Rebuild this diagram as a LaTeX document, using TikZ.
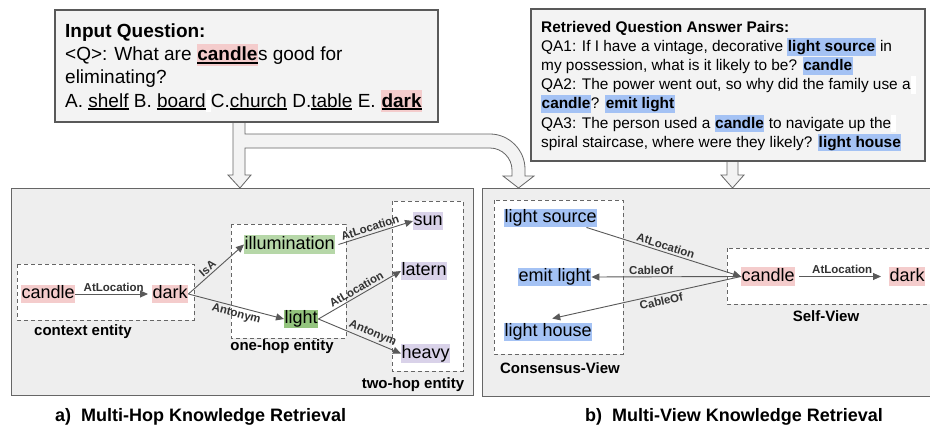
\documentclass[tikz,border=0pt]{standalone}
\usepackage{fontspec}
\setmainfont{Liberation Sans}
\usetikzlibrary{arrows.meta}

\definecolor{pinkhl}{HTML}{F4CCCC}
\definecolor{bluehl}{HTML}{A4C2F4}
\definecolor{greenlt}{HTML}{B6D7A8}
\definecolor{greendk}{HTML}{93C47D}
\definecolor{purplehl}{HTML}{D9D2E9}
\definecolor{panelbg}{HTML}{EEEEEE}
\definecolor{boxbg}{HTML}{F3F3F3}
\definecolor{edgegray}{HTML}{595959}
\definecolor{framegray}{HTML}{666666}
\definecolor{labtext}{HTML}{333333}

% thick underline drawn under a word
\newsavebox\ulbox
\newcommand\undl[1]{\sbox\ulbox{#1}\rlap{\rule[-2.6pt]{\wd\ulbox}{1.6pt}}\usebox\ulbox}
% coloured highlight covering the full line height
\newcommand\hlbg[2]{{\setlength{\fboxsep}{0pt}\colorbox{#1}{\rule[-0.26em]{0pt}{1.14em}\hspace{0.5pt}#2\hspace{0.5pt}}}}
% small white patch of the text-box background
\newcommand\whitegap[1]{{\setlength{\fboxsep}{0pt}\colorbox{white}{\rule[-0.26em]{0pt}{1.14em}\hspace{#1}}}}

\tikzset{
  panel/.style={draw=framegray, line width=1pt, fill=panelbg},
  qbox/.style={draw=edgegray, line width=1.2pt, fill=boxbg},
  group/.style={draw=framegray, dash pattern=on 4pt off 3pt, line width=0.8pt, fill=white},
  ent/.style={anchor=west, inner xsep=0.5pt, inner ysep=0pt, text height=14pt, text depth=4.5pt,
              font=\fontsize{18}{20}\selectfont},
  rel/.style={draw=edgegray, line width=0.9pt, -{Triangle[length=8pt,width=7pt]}},
  rlab/.style={font=\bfseries\fontsize{11.5}{13}\selectfont, text=labtext, inner sep=2pt, sloped},
  grouplab/.style={font=\bfseries\fontsize{15}{17}\selectfont, inner sep=0pt},
  caption/.style={font=\bfseries\fontsize{18}{20}\selectfont, anchor=west, inner sep=0pt},
  qline/.style={anchor=base west, inner sep=0pt, font=\fontsize{19}{23}\selectfont},
  qaline/.style={anchor=base west, inner sep=0pt, font=\fontsize{15.4}{19}\selectfont},
  blockarrow/.style={draw=framegray, line width=0.8pt, fill=boxbg},
}

\begin{document}
\begin{tikzpicture}[x=1pt,y=-1pt]
\useasboundingbox (0,0) rectangle (930,428);
\fill[white] (0,0) rectangle (930,428);

% ---- lower panels ----
\draw[panel] (11,188) rectangle (473,395);
\draw[panel] (482,188) rectangle (940,396);

% ---- hollow block arrows ----
\draw[blockarrow] (233,115) -- (233,175) -- (228,175) -- (240,188) -- (251,175) -- (245,175)
  -- (245,148) -- (490,148) .. controls (502,148) and (512,158) .. (512,170) -- (512,176)
  -- (503,176) -- (518.5,188) -- (534,176) -- (525,176) -- (525,169)
  .. controls (525,150) and (509,134) .. (490,134) -- (245,134) -- (245,115) -- cycle;
\draw[blockarrow] (727,155) -- (727,175) -- (721,175) -- (732.5,188) -- (744,175) -- (738,175)
  -- (738,155) -- cycle;

% ---- input question ----
\draw[qbox] (55,10) rectangle (438,122);
\node[qline] (q1) at (65,38) {\bfseries Input Question:};
\node[qline] (q2) at (65,61) {<Q>: What are \hlbg{pinkhl}{\undl{\bfseries candle}}s good for};
\node[qline] (q3) at (65,84) {eliminating?};
\node[qline] (q4) at (65,107) {A. \undl{shelf} B. \undl{board}\whitegap{0.28em}C.\undl{church} D.\undl{table} E. \hlbg{pinkhl}{\undl{\bfseries dark}}};

% ---- retrieved QA pairs ----
\draw[qbox] (531,9) rectangle (925,161);
\node[qaline] (r1) at (541,32.3) {\bfseries Retrieved Question Answer Pairs:};
\node[qaline] (r2) at (541,51.5) {QA1: If I have a vintage, decorative \hlbg{bluehl}{\bfseries light source} in};
\node[qaline] (r3) at (541,70.7) {my possession, what is it likely to be? \hlbg{bluehl}{\bfseries candle}};
\node[qaline] (r4) at (541,89.9) {QA2: The power went out, so why did the family use a\whitegap{5pt}};
\node[qaline] (r5) at (541,109) {\hlbg{bluehl}{\bfseries candle}? \hlbg{bluehl}{\bfseries emit light}};
\node[qaline] (r6) at (541,128.2) {QA3: The person used a \hlbg{bluehl}{\bfseries candle} to navigate up the\whitegap{5pt}};
\node[qaline] (r7) at (541,147.4) {spiral staircase, where were they likely? \hlbg{bluehl}{\bfseries light house}};

% ---- a) multi-hop retrieval ----
\draw[group] (17,264) rectangle (194,320);
\draw[group] (231,224) rectangle (346,338);
\draw[group] (392,201) rectangle (463,371);

\node[ent, fill=pinkhl]   (cL)  at (21,294)  {candle};
\node[ent, fill=pinkhl]   (dL)  at (152,294) {dark};
\node[ent, fill=greenlt]  (ill) at (244,244.5) {illumination};
\node[ent, fill=greendk]  (lt)  at (284,319) {light};
\node[ent, fill=purplehl] (sun) at (413,221) {sun};
\node[ent, fill=purplehl] (lat) at (401,271) {latern};
\node[ent, fill=purplehl] (hv)  at (401,353.5) {heavy};

\draw[rel, shorten >=4pt] (cL) -- (dL) node[midway, above, rlab] {AtLocation};
\draw[rel] (dL.east) -- (ill.west) node[pos=0.42, above, rlab] {IsA};
\draw[rel] (dL.east) -- (lt.west) node[pos=0.52, below, rlab] {Antonym};
\draw[rel] ([xshift=3pt]ill.east) -- (sun.west) node[pos=0.45, above, rlab] {AtLocation};
\draw[rel] (lt.east) -- (lat.west) node[pos=0.5, above, rlab] {AtLocation};
\draw[rel] (lt.east) -- (hv.west) node[pos=0.62, above, rlab] {Antonym};

\node[grouplab] (lab1) at (83,332)  {context entity};
\node[grouplab] (lab2) at (282,347) {one-hop entity};
\node[grouplab] (lab3) at (413,385) {two-hop entity};

% ---- b) multi-view retrieval ----
\draw[group] (494,200) rectangle (623,354);
\draw[group] (727,248) rectangle (940,304);

\node[ent, fill=bluehl] (ls) at (504,218)   {light source};
\node[ent, fill=bluehl] (em) at (518,277)   {emit light};
\node[ent, fill=bluehl] (lh) at (504,332)   {light house};
\node[ent, fill=pinkhl] (cR) at (741,276.5) {candle};
\node[ent, fill=pinkhl] (dR) at (889,276.5) {dark};

\draw[rel] ([xshift=-11pt]ls.south east) -- (cR.west) node[pos=0.5, above, rlab] {AtLocation};
\draw[rel] (cR.west) -- (em.east) node[pos=0.6, above, rlab] {CableOf};
\draw[rel] (cR.west) -- ([xshift=4pt,yshift=4pt]lh.north) node[pos=0.43, below, rlab] {CableOf};
\draw[rel, shorten <=4pt, shorten >=8pt] (cR) -- (dR) node[midway, above, rlab] {AtLocation};

\node[grouplab] (lab4) at (560,368) {Consensus-View};
\node[grouplab] (lab5) at (826,316) {Self-View};

% ---- captions ----
\node[caption] (capA) at (55,417)  {a)\ \ Multi-Hop Knowledge Retrieval};
\node[caption] (capB) at (585,417) {b)\ \ Multi-View Knowledge Retrieval};
\end{tikzpicture}
\end{document}
